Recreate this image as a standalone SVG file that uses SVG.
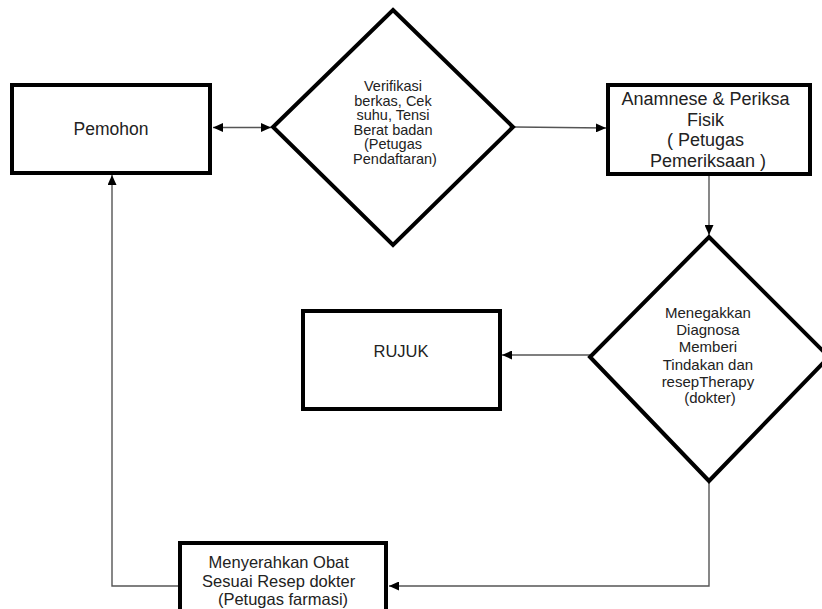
<svg xmlns="http://www.w3.org/2000/svg" width="822" height="609" viewBox="0 0 822 609">
<style>
.box{fill:#fff;stroke:#000;stroke-width:4}
.dia{fill:#fff;stroke:#000;stroke-width:4;stroke-linejoin:miter}
.t{font-family:"Liberation Sans",Arial,sans-serif;fill:#222;text-anchor:middle}
.conn{fill:none;stroke:#555;stroke-width:1.4}
</style>
<defs>
<marker id="ah" markerUnits="userSpaceOnUse" markerWidth="10" markerHeight="9" refX="10" refY="4.5" orient="auto-start-reverse">
<path d="M0,0 L10,4.5 L0,9 z" fill="#000"/>
</marker>
</defs>
<rect width="822" height="609" fill="#fff"/>
<g id="connectors">
<line class="conn" x1="213" y1="127.5" x2="271" y2="127.5" marker-start="url(#ah)" marker-end="url(#ah)"/>
<line class="conn" x1="515" y1="127" x2="606" y2="128" marker-end="url(#ah)"/>
<line class="conn" x1="709" y1="176" x2="709" y2="235" marker-end="url(#ah)"/>
<line class="conn" x1="590" y1="355" x2="502" y2="355" marker-end="url(#ah)"/>
<path class="conn" d="M709,481 V586 H389" marker-end="url(#ah)"/>
<path class="conn" d="M179,586 H112 V175" marker-end="url(#ah)"/>
</g>
<g id="pemohon">
<rect class="box" x="12" y="85" width="198" height="88"/>
<text class="t" x="111" y="135" font-size="17.5">Pemohon</text>
</g>
<g id="verifikasi">
<polygon class="dia" points="393,10 513,127 393,245 273,127"/>
<text class="t" font-size="14.5">
<tspan x="395" y="91">Verifikasi</tspan>
<tspan x="395" y="105.5">berkas, Cek</tspan>
<tspan x="395" y="120">suhu, Tensi</tspan>
<tspan x="395" y="134.5">Berat badan</tspan>
<tspan x="395" y="149">(Petugas</tspan>
<tspan x="395" y="163.5">Pendaftaran)</tspan>
</text>
</g>
<g id="anamnese">
<rect class="box" x="608" y="85" width="202" height="89"/>
<text class="t" font-size="18">
<tspan x="708" y="105">Anamnese &amp; Periksa</tspan>
<tspan x="708" y="125.5">Fisik</tspan>
<tspan x="708" y="146"> ( Petugas</tspan>
<tspan x="708" y="166.5">Pemeriksaan )</tspan>
</text>
</g>
<g id="diagnosa">
<polygon class="dia" points="709,237 829,357 709,481 590,357"/>
<text class="t" font-size="15">
<tspan x="710" y="318">Menegakkan</tspan>
<tspan x="710" y="335">Diagnosa</tspan>
<tspan x="710" y="352">Memberi</tspan>
<tspan x="710" y="370">Tindakan dan</tspan>
<tspan x="710" y="387">resepTherapy</tspan>
<tspan x="710" y="403">(dokter)</tspan>
</text>
</g>
<g id="rujuk">
<rect class="box" x="303" y="311" width="197" height="98"/>
<text class="t" x="401" y="357" font-size="16.5">RUJUK</text>
</g>
<g id="farmasi">
<rect class="box" x="180" y="543" width="206" height="90"/>
<text class="t" font-size="16.5">
<tspan x="281" y="568">Menyerahkan Obat</tspan>
<tspan x="281" y="586.5">Sesuai Resep dokter</tspan>
<tspan x="283" y="605"> (Petugas farmasi)</tspan>
</text>
</g>
</svg>
